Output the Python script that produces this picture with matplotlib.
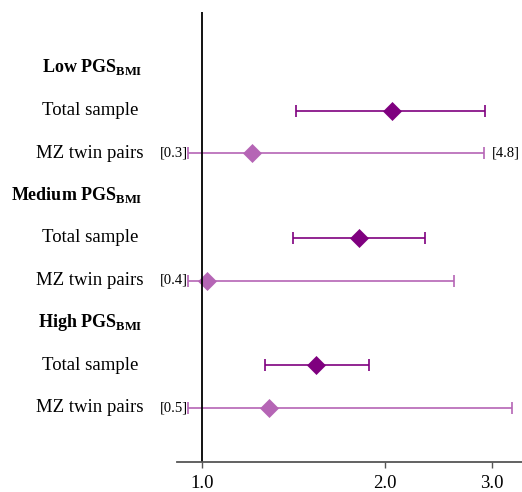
import numpy as np
import matplotlib.pyplot as plt
from matplotlib import transforms

plt.rcParams['font.family'] = ['Liberation Serif', 'DejaVu Serif']
plt.rcParams['mathtext.fontset'] = 'custom'
plt.rcParams['mathtext.rm'] = 'Liberation Serif'
plt.rcParams['mathtext.bf'] = 'Liberation Serif:bold'

# groups and rows (top to bottom)
groups = ['Low', 'Medium', 'High']
row_labels = ['Total sample', 'MZ twin pairs']

# estimates and CIs: [total, MZ] per group
est = [[2.05, 1.21], [1.81, 1.02], [1.54, 1.29]]
lo = [[1.43, 0.3], [1.41, 0.4], [1.27, 0.5]]
hi = [[2.92, 4.8], [2.33, 2.60], [1.88, 3.24]]

xmin, xmax = 0.91, 3.36
clip_lo = 0.948   # where truncated lower whiskers start
clip_hi = 2.91    # where truncated upper whisker stops

col_total = '#7f007f'
col_mz = '#b565b5'

fig = plt.figure(figsize=(5.22, 4.92), dpi=100)
ax = fig.add_axes([177/522, 30/492, 345/522, 480/492 - 30/492])
fig_tr = transforms.blended_transform_factory(fig.transFigure, ax.transData)

rowpos = 0
for g in range(3):
    fig.text(143/522, rowpos - 0.02, r'%s PGS$_{\mathbf{BMI}}$' % groups[g], transform=fig_tr,
             ha='right', va='center', fontsize=13, fontweight='bold')
    for r in range(2):
        y = rowpos + 1 + r
        c = col_total if r == 0 else col_mz
        fig.text(90/522, y, row_labels[r], transform=fig_tr,
                 ha='center', va='center', fontsize=13.5)
        l, h = lo[g][r], hi[g][r]
        ld = max(l, clip_lo)
        hd = h if h <= 3.3 else clip_hi
        ax.errorbar([est[g][r]], [y], xerr=[[est[g][r] - ld], [hd - est[g][r]]],
                    fmt='none', ecolor=c, elinewidth=1.2, capsize=4.5, capthick=1.2)
        ax.plot([est[g][r]], [y], marker='D', ms=9.3, color=c, mec=c, mew=0.5)
        if l < ld:
            ax.text(ld, y, '[%.1f]' % l, ha='right', va='center', fontsize=10.5,
                    clip_on=False)
        if h > hd:
            ax.text(hd * 1.03, y, '[%.1f]' % h, ha='left', va='center', fontsize=10.5,
                    clip_on=False)
    rowpos += 3

ax.axvline(1.0, ymin=0, ymax=1, color='black', lw=1.3)

ax.set_xscale('log')
ax.set_xlim(xmin, xmax)
ax.set_ylim((462 - 68) / 42.5, (12 - 68) / 42.5)
ax.set_xticks([1.0, 2.0, 3.0])
ax.set_xticklabels(['1.0', '2.0', '3.0'], fontsize=13.5)
ax.minorticks_off()
ax.tick_params(axis='x', length=4, width=1, color='#555555', pad=5)
ax.set_yticks([])
for s in ['top', 'right', 'left']:
    ax.spines[s].set_visible(False)
ax.spines['bottom'].set_color('#555555')
ax.spines['bottom'].set_linewidth(1.3)
ax.patch.set_alpha(0)

fig.savefig('out.png', dpi=100)
